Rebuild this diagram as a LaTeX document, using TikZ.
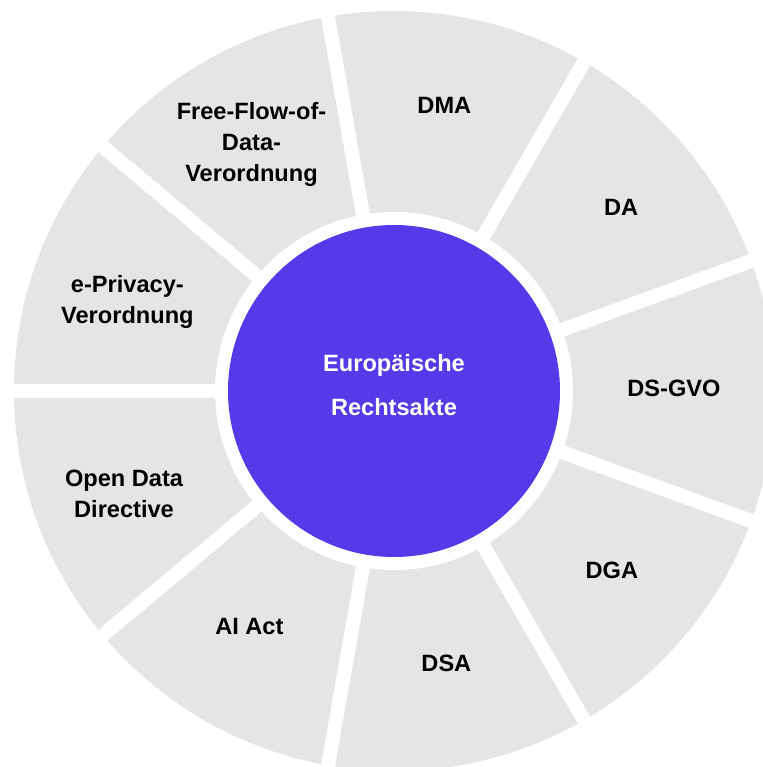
\documentclass[tikz,border=0pt]{standalone}
\usepackage{fontspec}
\setmainfont{Liberation Sans}
\usetikzlibrary{positioning}
\definecolor{ringgray}{HTML}{E5E5E5}
\definecolor{corepurple}{HTML}{5739E9}

\begin{document}
\begin{tikzpicture}[x=0.5pt, y=0.5pt,
	% Define styles for the ring labels and the centre
	act style/.style={align=center, text=black, font=\fontsize{11.8}{15.5}\selectfont\bfseries},
	core style/.style={circle, fill=corepurple, minimum size=166pt, inner sep=0pt},
	core text/.style={align=center, text=white, font=\fontsize{11.8}{22}\selectfont\bfseries},
	gap style/.style={draw=white, line width=7pt}
	]
	
	\useasboundingbox (-394,-376) rectangle (369,391);
	
	% Ring and the white gaps
	\fill[ringgray] (0,0) circle (380);
	\fill[white] (0,0) circle (179);
	\foreach \a in {20,60,...,340}
		\draw[gap style] (0,0) -- (\a:395);
	
	% Centre node
	\node[core style] (core) at (0,0) {};
	\node[core text] (core label) at ([yshift=3pt]core.center) {Europäische\\Rechtsakte};
	
	% Segment labels
	\foreach \name/\ang/\rad/\txt in {dsgvo/0.6/280/DS-GVO, da/38.9/292/DA, dma/80/290/DMA,
		ffd/120/285/{Free-Flow-of-\\Data-\\Verordnung}, eprivacy/161.6/281/{e-Privacy-\\Verordnung},
		odd/200.9/289/{Open Data\\Directive}, aiact/238.4/276/AI Act, dsa/280.9/277/DSA, dga/320.6/282/DGA}
		\node[act style] (\name) at (\ang:\rad) {\txt};
\end{tikzpicture}
\end{document}
